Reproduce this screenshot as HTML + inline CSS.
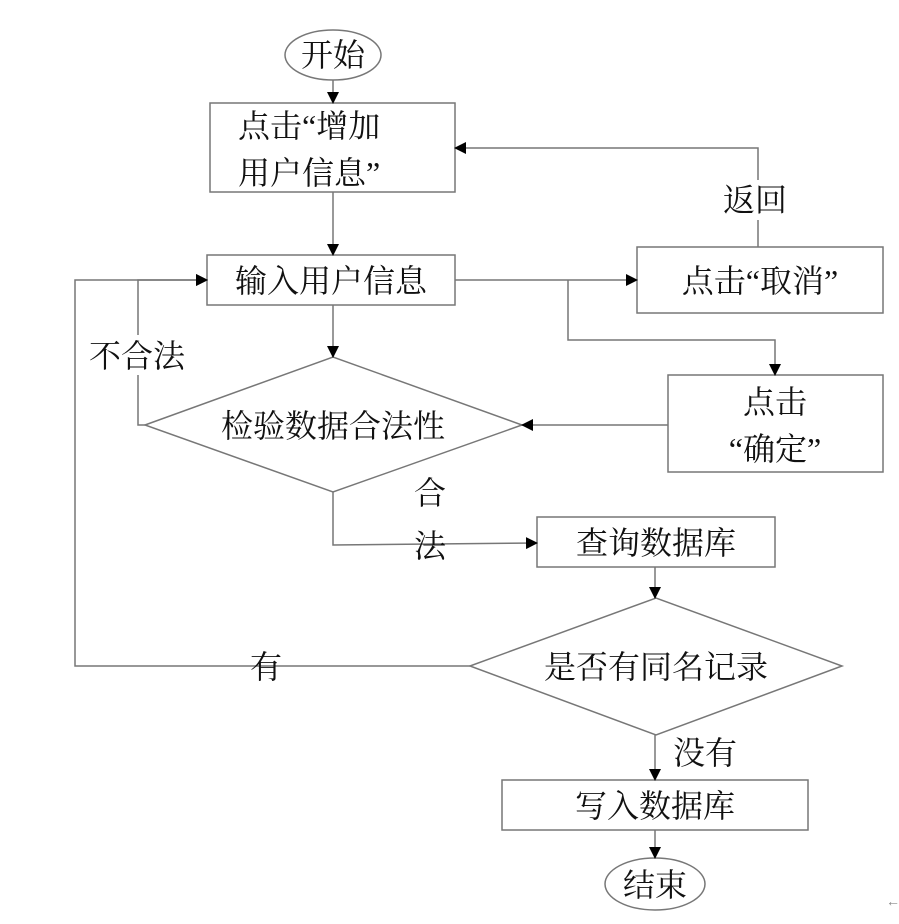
<!DOCTYPE html>
<html><head><meta charset="utf-8"><style>
html,body{margin:0;padding:0;background:#fff;}
svg text{font-family:"Liberation Serif","Noto Serif CJK SC",serif;font-size:32px;fill:#111;}
</style></head><body>
<svg width="899" height="919" viewBox="0 0 899 919" xmlns="http://www.w3.org/2000/svg">
<defs><marker id="a" markerWidth="12" markerHeight="12" refX="11" refY="6" orient="auto" markerUnits="userSpaceOnUse"><path d="M0,0 L12,6 L0,12 Z" fill="#000"/></marker></defs>
<g fill="none" stroke="#777" stroke-width="1.5">
<ellipse cx="333" cy="55" rx="48" ry="25"/>
<rect x="210" y="103" width="245" height="89"/>
<rect x="207" y="255" width="248" height="50"/>
<rect x="637" y="247" width="246" height="66"/>
<rect x="668" y="375" width="215" height="97"/>
<polygon points="145,425 333,357 522,425 333,492"/>
<rect x="537" y="517" width="238" height="50"/>
<polygon points="470,666 656,598 842,666 656,735"/>
<rect x="502" y="780" width="306" height="50"/>
<ellipse cx="655" cy="884" rx="50" ry="26"/>
</g>
<g fill="none" stroke="#777" stroke-width="1.5" marker-end="url(#a)">
<line x1="333" y1="80" x2="333" y2="103"/>
<line x1="333" y1="192" x2="333" y2="255"/>
<line x1="455" y1="280" x2="637" y2="280"/>
<polyline points="758,247 758,148 455,148"/>
<polyline points="568,280 568,340 775,340 775,375"/>
<line x1="668" y1="425" x2="522" y2="425"/>
<line x1="333" y1="305" x2="333" y2="357"/>
<polyline points="145,425 138,425 138,280 207,280"/>
<polyline points="333,492 333,545 537,543"/>
<polyline points="470,666 75,666 75,280 207,280"/>
<line x1="655" y1="567" x2="655" y2="598"/>
<line x1="655" y1="735" x2="655" y2="780"/>
<line x1="655" y1="830" x2="655" y2="858"/>
</g>
<rect x="715" y="180" width="80" height="40" fill="#fff"/>
<rect x="80" y="335" width="115" height="40" fill="#fff"/>
<text x="333" y="66" text-anchor="middle">开始</text>
<text x="238" y="137">点击“增加</text>
<text x="238" y="184">用户信息”</text>
<text x="331" y="292" text-anchor="middle">输入用户信息</text>
<text x="755" y="211" text-anchor="middle">返回</text>
<text x="760" y="292" text-anchor="middle">点击“取消”</text>
<text x="775" y="413" text-anchor="middle">点击</text>
<text x="775" y="460" text-anchor="middle">“确定”</text>
<text x="333" y="437" text-anchor="middle">检验数据合法性</text>
<text x="137" y="367" text-anchor="middle">不合法</text>
<text x="430" y="504" text-anchor="middle">合</text>
<text x="430" y="557" text-anchor="middle">法</text>
<text x="656" y="554" text-anchor="middle">查询数据库</text>
<text x="656" y="678" text-anchor="middle">是否有同名记录</text>
<text x="266" y="678" text-anchor="middle">有</text>
<text x="705" y="764" text-anchor="middle">没有</text>
<text x="655" y="817" text-anchor="middle">写入数据库</text>
<text x="655" y="896" text-anchor="middle">结束</text>
<text x="893" y="906" text-anchor="middle" style="font-size:14px;fill:#888">←</text>
</svg>
</body></html>
